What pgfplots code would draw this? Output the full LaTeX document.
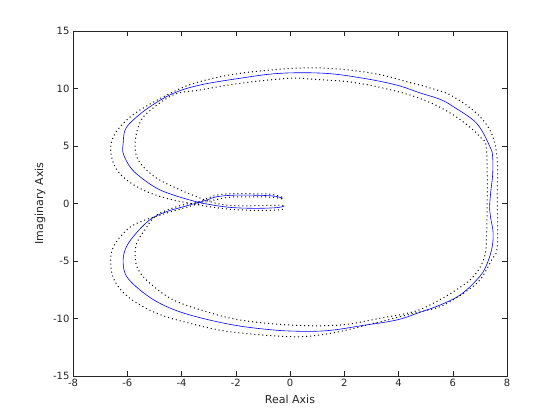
\documentclass[border=0pt]{standalone}
\usepackage{pgfplots}
\pgfplotsset{compat=1.18}
\usepackage{fontspec}
\setmainfont{DejaVu Sans}
\definecolor{mblue}{RGB}{0,0,255}
\definecolor{axgray}{RGB}{38,38,38}

\begin{document}
\begin{tikzpicture}
  \path[use as bounding box] (-73pt,-44pt) rectangle (487pt,376pt);
  \begin{axis}[
      at={(0pt,0pt)}, anchor=south west,
      scale only axis,
      width=434pt, height=345pt,
      xmin=-8, xmax=8, ymin=-15, ymax=15,
      xtick={-8,-6,...,8},
      ytick={-15,-10,...,15},
      tick align=inside,
      tick pos=both,
      major tick length=5pt,
      axis line style={axgray, line width=0.5pt},
      tick style={axgray, line width=0.5pt},
      tick label style={font=\fontsize{10}{12}\selectfont, text=axgray},
      /pgf/number format/assume math mode=true,
      clip=false
    ]
    % nominal response
    \addplot[mblue, line width=0.6pt, smooth, tension=0.6] coordinates {
      (-0.26,0.45) (-0.62,0.65) (-1.3,0.72) (-2.09,0.72) (-2.70,0.59)
      (-3.07,0.30) (-3.32,0.12) (-3.93,-0.28) (-4.55,-0.71) (-5.16,-1.40)
      (-5.78,-2.88) (-6.08,-4.04) (-6.15,-5.2) (-6.02,-6.36) (-5.53,-7.52)
      (-4.91,-8.54) (-4.18,-9.32) (-3.32,-9.93) (-2.21,-10.51) (-1.23,-10.85)
      (0,-11.09) (1.35,-11.06) (2.70,-10.6) (3.93,-10.13) (4.79,-9.46)
      (5.53,-8.83) (6.27,-7.96) (6.88,-6.65) (7.19,-5.64) (7.43,-4.04)
      (7.49,-2.59) (7.40,-1.3) (7.36,-0.3) (7.40,1.0) (7.47,2.5)
      (7.47,4.07) (7.37,4.94) (6.88,6.97) (6.02,8.42) (5.53,9.06)
      (4.79,9.62) (3.93,10.3) (2.70,10.89) (1.29,11.32) (-0.37,11.32)
      (-1.84,10.89) (-3.32,10.3) (-4.30,9.58) (-5.16,8.42) (-5.78,7.26)
      (-6.08,6.39) (-6.15,5.23) (-6.15,4.37) (-5.90,3.20) (-5.53,2.33)
      (-4.91,1.32) (-4.30,0.74) (-3.69,0.30) (-3.32,0.07) (-2.70,-0.19)
      (-2.09,-0.36) (-1.23,-0.42) (-0.49,-0.36) (-0.21,-0.22)
    };
    % outer bound
    \addplot[black, line width=1pt, dash pattern=on 1pt off 3pt, line cap=butt, smooth, tension=0.6] coordinates {
      (-0.3,0.40) (-0.7,0.55) (-1.5,0.58) (-2.2,0.55) (-2.8,0.30)
      (-3.4,-0.05) (-4.0,-0.45) (-4.7,-0.95) (-5.53,-1.6) (-6.02,-2.3)
      (-6.51,-3.76) (-6.61,-5.2) (-6.45,-6.8) (-5.9,-8.24) (-4.91,-9.55)
      (-3.69,-10.42) (-2.21,-11.15) (0,-11.58) (1.1,-11.43) (2.09,-11.0)
      (3.32,-10.28) (4.55,-9.55) (5.53,-8.97) (6.39,-7.81) (7.0,-6.65)
      (7.43,-4.91) (7.64,-3.76) (7.64,0.88) (7.64,3.78) (7.43,6.1)
      (6.88,7.84) (6.02,9.29) (5.41,9.87) (4.30,10.6) (3.07,11.32)
      (1.47,11.75) (0.12,11.75) (-1.84,11.32) (-3.32,10.6) (-4.30,9.72)
      (-5.53,8.13) (-6.15,6.97) (-6.51,5.81) (-6.61,4.65) (-6.45,3.20)
      (-6.02,2.04) (-5.28,1.03) (-4.42,0.37) (-3.69,0.02) (-2.95,-0.28)
      (-2.21,-0.5) (-1.23,-0.6) (-0.37,-0.55) (-0.2,-0.35)
    };
    % inner bound
    \addplot[black, line width=1pt, dash pattern=on 1pt off 3pt, line cap=butt, smooth, tension=0.6] coordinates {
      (-0.3,0.55) (-0.7,0.80) (-1.5,0.85) (-2.2,0.85) (-2.75,0.70)
      (-3.2,0.30) (-3.5,0.05) (-4.0,-0.15) (-4.91,-1.0) (-5.35,-2.3)
      (-5.65,-3.46) (-5.71,-4.62) (-5.59,-5.78) (-5.16,-6.94) (-4.30,-8.39)
      (-3.07,-9.41) (-1.84,-10.13) (0,-10.57) (1.84,-10.57) (3.32,-9.98)
      (4.55,-9.41) (5.28,-8.68) (6.02,-7.67) (6.70,-6.5) (7.13,-4.91)
      (7.25,-2.59) (7.25,4.37) (7.0,5.81) (6.02,7.70) (4.79,9.14)
      (3.32,10.1) (2.09,10.6) (0.86,10.8) (0,10.89) (-1.84,10.45)
      (-3.32,9.87) (-4.30,9.45) (-5.28,7.84) (-5.59,6.68) (-5.71,5.23)
      (-5.65,4.07) (-5.41,3.20) (-4.91,2.19) (-4.18,1.32) (-3.44,0.59)
      (-2.95,0.16) (-2.46,-0.1) (-1.84,-0.2) (-1.0,-0.18) (-0.3,-0.15)
      (-0.2,-0.25)
    };
  \end{axis}
  \node[font=\fontsize{11}{13}\selectfont, text=axgray] at (217pt,-23pt) {Real Axis};
  \node[font=\fontsize{11}{13}\selectfont, text=axgray, rotate=90] at (-33pt,172.5pt) {Imaginary Axis};
\end{tikzpicture}
\end{document}
